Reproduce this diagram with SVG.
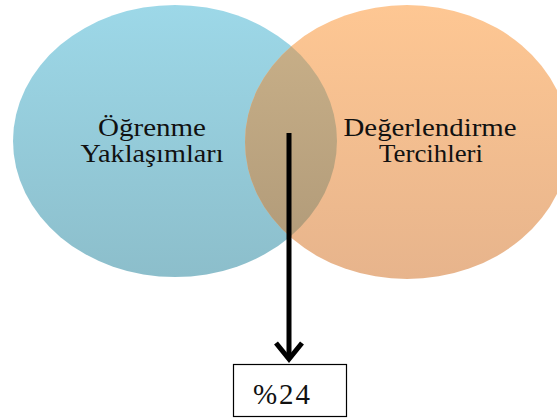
<svg xmlns="http://www.w3.org/2000/svg" width="557" height="419" viewBox="0 0 557 419">
<style>
.lbl{font-family:"Liberation Serif","Times New Roman",serif;font-size:25px;fill:#111;text-anchor:middle}
.val{font-family:"Liberation Serif","Times New Roman",serif;font-size:29px;fill:#111}
.conn{stroke:#000;stroke-width:5;fill:none}
</style>
<defs>
<linearGradient id="gb" x1="0" y1="0" x2="0" y2="1">
<stop offset="0" stop-color="#9DD8E8"/><stop offset="1" stop-color="#8CBECB"/>
</linearGradient>
<linearGradient id="go" x1="0" y1="0" x2="0" y2="1">
<stop offset="0" stop-color="#FEC793"/><stop offset="1" stop-color="#E7B48C"/>
</linearGradient>
<linearGradient id="gx" x1="0" y1="0" x2="0" y2="1">
<stop offset="0" stop-color="#CBB28A"/><stop offset="1" stop-color="#AE9877"/>
</linearGradient>
<clipPath id="cb"><ellipse cx="175" cy="141" rx="162" ry="136"/></clipPath>
</defs>
<g id="node-ogrenme">
<ellipse cx="175" cy="141" rx="162" ry="136" fill="url(#gb)"/>
</g>
<g id="node-degerlendirme">
<ellipse cx="407" cy="142" rx="162" ry="137" fill="url(#go)"/>
</g>
<g id="overlap">
<ellipse cx="407" cy="142" rx="162" ry="137" fill="url(#gx)" clip-path="url(#cb)"/>
</g>
<g id="labels">
<text class="lbl" x="152" y="136" textLength="108" lengthAdjust="spacingAndGlyphs">Öğrenme</text>
<text class="lbl" x="152" y="162" textLength="143" lengthAdjust="spacingAndGlyphs">Yaklaşımları</text>
<text class="lbl" x="430" y="136" textLength="173" lengthAdjust="spacingAndGlyphs">Değerlendirme</text>
<text class="lbl" x="431" y="162" textLength="104" lengthAdjust="spacingAndGlyphs">Tercihleri</text>
</g>
<g id="connectors">
<line class="conn" x1="289" y1="133" x2="289" y2="358"/>
<polyline class="conn" points="276,343 289,359 302,343" stroke-linejoin="miter"/>
</g>
<g id="node-result">
<rect x="233.5" y="364.5" width="113" height="52" fill="#fff" stroke="#000" stroke-width="1.2"/>
<text class="val" x="253" y="404" textLength="57" lengthAdjust="spacing">%24</text>
</g>
</svg>
